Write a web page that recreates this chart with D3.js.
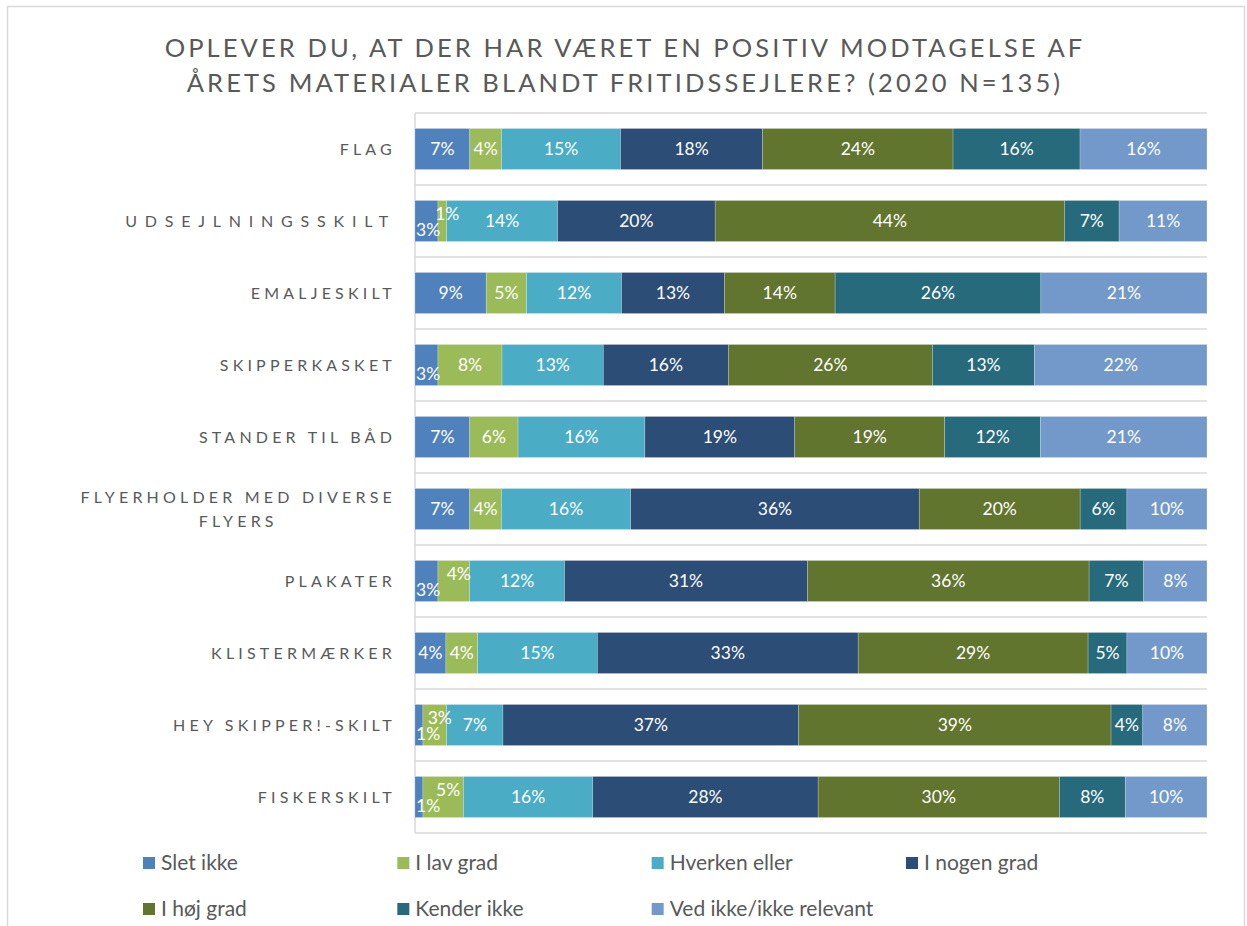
<!DOCTYPE html>
<html lang="da">
<head>
<meta charset="utf-8">
<title>Positiv modtagelse af årets materialer</title>
<script src="https://cdn.jsdelivr.net/npm/d3@7"></script>
<style>
  body { margin: 0; background: #fff; }
  svg { font-family: Lato, "Open Sans", sans-serif; }
  .cat { fill: #595959; font-size: 16px; letter-spacing: 4.2px; }
  .title { fill: #595959; font-size: 25.5px; letter-spacing: 3.1px; }
  .lbl { fill: #fff; font-size: 17.5px; }
  .leg text { fill: #595959; font-size: 21px; }
</style>
</head>
<body>
<svg id="chart" width="1247" height="926"></svg>
<script>
// categories top to bottom
var categories = ["FLAG", "UDSEJLNINGSSKILT", "EMALJESKILT", "SKIPPERKASKET", "STANDER TIL BÅD",
  "FLYERHOLDER MED DIVERSE FLYERS", "PLAKATER", "KLISTERMÆRKER", "HEY SKIPPER!-SKILT", "FISKERSKILT"];

var seriesNames = ["Slet ikke", "I lav grad", "Hverken eller", "I nogen grad", "I høj grad", "Kender ikke", "Ved ikke/ikke relevant"];
var seriesColors = ["#4f81bd", "#9bbb59", "#4bacc6", "#2c4d75", "#62752f", "#276a7c", "#7299ca"];

// percent per category, one array per series (same order as categories)
var sletIkke    = [6.9, 2.9, 9.0, 2.9, 6.9, 6.9, 2.9, 3.9, 1.0, 1.0];
var iLavGrad    = [4.0, 1.1, 5.1, 8.1, 6.1, 4.0, 4.0, 4.0, 3.0, 5.1];
var hverken     = [15.0, 14.0, 12.0, 12.8, 16.0, 16.3, 12.0, 15.1, 7.1, 16.3];
var iNogenGrad  = [17.9, 19.9, 13.0, 15.8, 18.9, 36.4, 30.7, 32.9, 37.3, 28.4];
var iHoejGrad   = [24.0, 44.1, 14.0, 25.8, 18.9, 20.3, 35.6, 29.0, 39.4, 30.4];
var kenderIkke  = [16.0, 6.9, 26.0, 12.9, 12.1, 5.9, 6.9, 4.9, 4.0, 8.3];
var vedIkke     = [16.0, 11.1, 21.0, 21.8, 21.0, 10.1, 8.0, 10.1, 8.1, 10.3];

var series = [sletIkke, iLavGrad, hverken, iNogenGrad, iHoejGrad, kenderIkke, vedIkke];

var svg = d3.select("#chart");

// chart frame
svg.append("rect")
  .attr("x", 7.5).attr("y", 6.5).attr("width", 1237).attr("height", 940)
  .attr("fill", "none").attr("stroke", "#d9d9d9").attr("stroke-width", 1.5);

// title
var title = svg.append("text").attr("class", "title").attr("text-anchor", "middle");
title.append("tspan").attr("x", 625).attr("y", 57).text("OPLEVER DU, AT DER HAR VÆRET EN POSITIV MODTAGELSE AF");
title.append("tspan").attr("x", 625).attr("y", 92).text("ÅRETS MATERIALER BLANDT FRITIDSSEJLERE? (2020 N=135)");

var plotL = 415, plotR = 1207, plotT = 113, plotB = 833;

// 100% stacked: positions are shares of each row's total
var x = d3.scaleLinear().domain([0, 1]).range([plotL, plotR]);
var y = d3.scaleBand().domain(categories).range([plotT, plotB])
  .paddingInner(0.43).paddingOuter(0.215);

// gridlines at category boundaries
var bounds = d3.range(categories.length + 1).map(function(i) { return plotT + i * y.step(); });
svg.append("g").selectAll("line").data(bounds).enter().append("line")
  .attr("x1", plotL).attr("x2", plotR)
  .attr("y1", function(d) { return d; }).attr("y2", function(d) { return d; })
  .attr("stroke", "#d9d9d9").attr("stroke-width", 1.5);

svg.append("line")
  .attr("x1", plotL).attr("x2", plotL).attr("y1", plotT).attr("y2", plotB)
  .attr("stroke", "#d9d9d9").attr("stroke-width", 1.5);

// stacked data
var rows = categories.map(function(c, i) {
  var total = d3.sum(series, function(s) { return s[i]; });
  var acc = 0;
  return series.map(function(s, k) {
    var seg = { cat: c, k: k, v: s[i], x0: acc / total, x1: (acc + s[i]) / total };
    acc += s[i];
    return seg;
  });
});

var rowG = svg.append("g").selectAll("g").data(rows).enter().append("g");

rowG.selectAll("rect").data(function(d) { return d; }).enter().append("rect")
  .attr("x", function(d) { return x(d.x0); })
  .attr("y", function(d) { return y(d.cat); })
  .attr("width", function(d) { return x(d.x1) - x(d.x0); })
  .attr("height", y.bandwidth())
  .attr("fill", function(d) { return seriesColors[d.k]; })
  .attr("stroke", "#ffffff").attr("stroke-opacity", 0.35).attr("stroke-width", 0.6);

// data labels; tiny first segments get nudged like Excel does
rowG.each(function(row) {
  var g = d3.select(this);
  var firstNarrow = row[0].v < 3.5;
  row.forEach(function(d) {
    var cx = (x(d.x0) + x(d.x1)) / 2;
    var cy = y(d.cat) + y.bandwidth() / 2;
    var t = g.append("text").attr("class", "lbl")
      .attr("dy", "0.35em")
      .text(Math.round(d.v) + "%");
    if (d.k === 0 && firstNarrow) {
      t.attr("x", x(d.x0) + 1).attr("y", cy + 9).attr("text-anchor", "start");
    } else if (d.k === 1 && firstNarrow && d.v < 6) {
      t.attr("x", cx + 5).attr("y", cy - 7).attr("text-anchor", "middle");
    } else {
      t.attr("x", cx).attr("y", cy).attr("text-anchor", "middle");
    }
  });
});

// category labels
var labelRight = 396;
categories.forEach(function(c) {
  var cy = y(c) + y.bandwidth() / 2;
  if (c === "FLYERHOLDER MED DIVERSE FLYERS") {
    var t = svg.append("text").attr("class", "cat").attr("text-anchor", "end")
      .attr("x", labelRight).attr("y", cy - 12).attr("dy", "0.35em").text("FLYERHOLDER MED DIVERSE");
    var w = t.node().getComputedTextLength();
    svg.append("text").attr("class", "cat").attr("text-anchor", "middle")
      .attr("x", labelRight - w / 2).attr("y", cy + 12).attr("dy", "0.35em").text("FLYERS");
  } else {
    var lt = svg.append("text").attr("class", "cat").attr("text-anchor", "end")
      .attr("x", labelRight).attr("y", cy).attr("dy", "0.35em").text(c);
    // this one is spread wider in the original
    if (c === "UDSEJLNINGSSKILT") lt.style("letter-spacing", "7.8px");
  }
});

// legend
var legX = d3.scalePoint().domain([0, 1, 2, 3]).range([143, 906]);
var leg = svg.append("g").attr("class", "leg").selectAll("g").data(seriesNames).enter().append("g")
  .attr("transform", function(d, i) {
    return "translate(" + legX(i % 4) + "," + (i < 4 ? 863 : 909) + ")";
  });
leg.append("rect").attr("x", 0).attr("y", -6).attr("width", 12).attr("height", 12)
  .attr("fill", function(d, i) { return seriesColors[i]; });
leg.append("text").attr("x", 18).attr("dy", "0.35em").text(function(d) { return d; });
</script>
</body>
</html>
